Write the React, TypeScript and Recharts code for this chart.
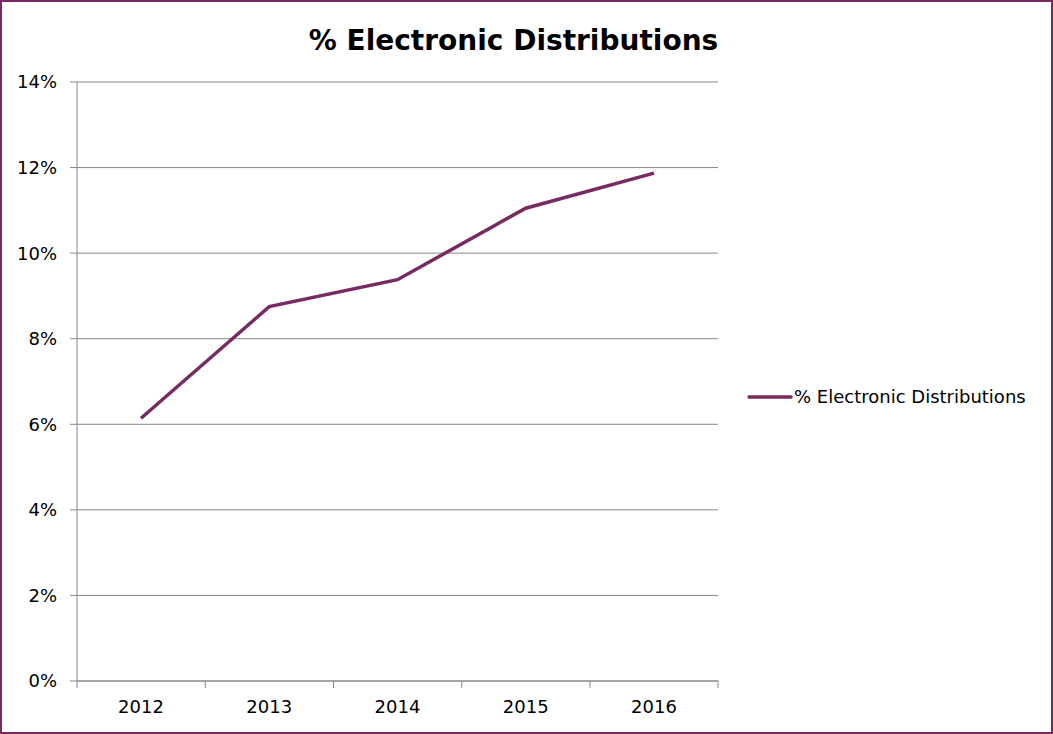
import React from 'react'
import { LineChart, Line, XAxis, YAxis, CartesianGrid, Legend } from 'recharts'

const years = ['2012', '2013', '2014', '2015', '2016']
const electronicPct = [6.14, 8.75, 9.38, 11.05, 11.87]
const yTicks = [0, 2, 4, 6, 8, 10, 12, 14]

const seriesName = '% Electronic Distributions'
const purple = '#772B60'
const gridGray = '#878787'
const font = '"DejaVu Sans", Verdana, sans-serif'
const catPad = 64 // half a category band, so points sit mid-band like Excel

const data = years.map((year, i) => ({ year, value: electronicPct[i] }))

// Legend drawn on the right, outside the plot area
const LegendContent = () => (
  <div
    style={{
      display: 'flex',
      alignItems: 'center',
      whiteSpace: 'nowrap',
      fontFamily: font,
      fontSize: 18,
      color: '#000'
    }}
  >
    <svg width={47} height={10} style={{ flex: 'none' }}>
      <line x1={2} y1={5} x2={44} y2={5} stroke={purple} strokeWidth={3.5} strokeLinecap="round" />
    </svg>
    <span>{seriesName}</span>
  </div>
)

// year label plus the small tick marks on the band edges
const YearTick = (props: any) => {
  const { x, y, payload, index, visibleTicksCount } = props
  const isLast = index === visibleTicksCount - 1
  return (
    <g>
      <line x1={x - catPad} x2={x - catPad} y1={y} y2={y + 7} stroke={gridGray} />
      {isLast && <line x1={x + catPad} x2={x + catPad} y1={y} y2={y + 7} stroke={gridGray} />}
      <text
        x={x}
        y={y + 19}
        dy="0.71em"
        textAnchor="middle"
        fill="#000"
        fontSize={18}
        fontFamily={font}
      >
        {payload.value}
      </text>
    </g>
  )
}

export default function App() {
  return (
    <div
      style={{
        position: 'fixed',
        left: 0,
        top: 0,
        width: 1053,
        height: 734,
        boxSizing: 'border-box',
        border: '2px solid #772961',
        background: '#fff'
      }}
    >
      <div
        style={{
          position: 'absolute',
          left: -15,
          top: 22,
          width: 1053,
          textAlign: 'center',
          fontFamily: font,
          fontWeight: 'bold',
          fontSize: 28,
          color: '#000'
        }}
      >
        {seriesName}
      </div>
      <div style={{ position: 'absolute', left: -2, top: -2 }}>
        <LineChart
          width={1053}
          height={734}
          data={data}
          margin={{ top: 82, right: 335, left: 0, bottom: 23 }}
        >
          <CartesianGrid stroke={gridGray} vertical={false} />
          <XAxis
            dataKey="year"
            height={30}
            padding={{ left: catPad, right: catPad }}
            interval={0}
            tickLine={false}
            axisLine={{ stroke: gridGray }}
            tickSize={0}
            tickMargin={0}
            tick={<YearTick />}
          />
          <YAxis
            width={77}
            domain={[0, 14]}
            ticks={yTicks}
            tickFormatter={(v: number) => `${v}%`}
            tickSize={7}
            tickMargin={13}
            tickLine={{ stroke: gridGray }}
            axisLine={{ stroke: gridGray }}
            tick={{ fill: '#000', fontSize: 18, fontFamily: font }}
            interval={0}
          />
          <Legend
            layout="horizontal"
            verticalAlign="middle"
            align="right"
            content={<LegendContent />}
            wrapperStyle={{ left: 747, top: 386, width: 0, height: 0, right: 'auto', bottom: 'auto', overflow: 'visible' }}
          />
          <Line
            type="linear"
            dataKey="value"
            name={seriesName}
            stroke={purple}
            strokeWidth={3.5}
            dot={false}
            activeDot={false}
            isAnimationActive={false}
          />
        </LineChart>
      </div>
    </div>
  )
}
